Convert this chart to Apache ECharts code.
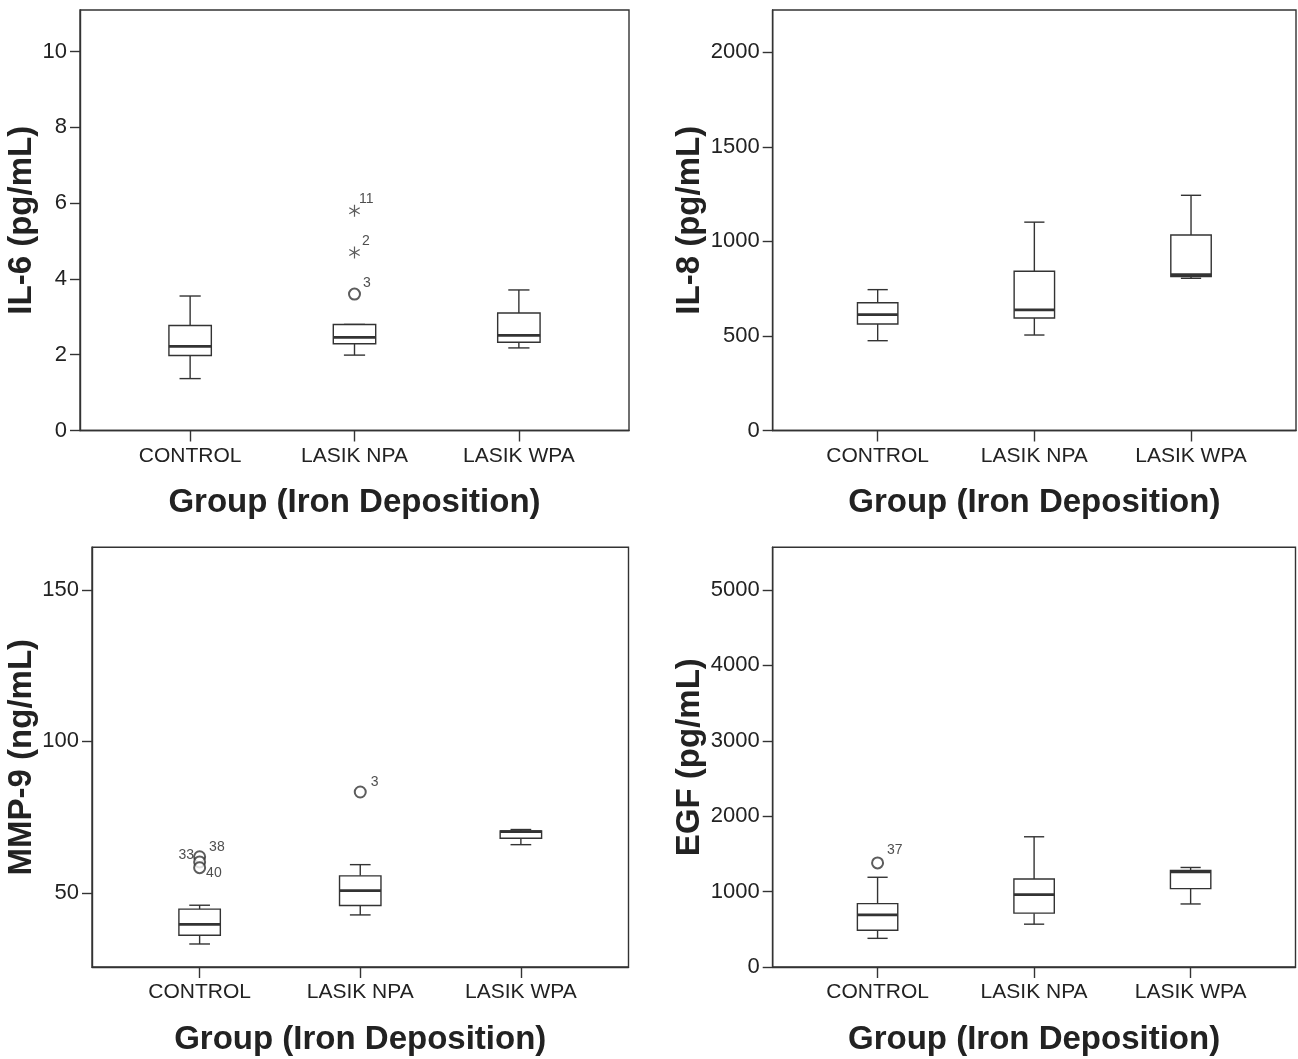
<!DOCTYPE html>
<html>
<head>
<meta charset="utf-8">
<script src="https://cdn.jsdelivr.net/npm/echarts@6/dist/echarts.min.js"></script>
<style>
  html, body { margin: 0; padding: 0; background: #fff; }
  #chart { width: 1298px; height: 1059px; }
</style>
</head>
<body>
<div id="chart"></div>
<script>
// ---------------- DATA ----------------
const groups = ['CONTROL', 'LASIK NPA', 'LASIK WPA'];

// box stats per group: [lower whisker, Q1, median, Q3, upper whisker]
const il6Box  = [[1.37, 1.98, 2.22, 2.77, 3.55], [1.99, 2.29, 2.46, 2.80, 2.80], [2.18, 2.33, 2.51, 3.10, 3.71]];
const il8Box  = [[475, 563, 613, 676, 745], [505, 595, 638, 842, 1102], [805, 814, 824, 1034, 1244]];
const mmp9Box = [[33.1, 36.0, 39.6, 44.6, 45.9], [42.7, 45.8, 50.7, 55.6, 59.3], [65.9, 68.0, 70.2, 70.4, 70.9]];
const egfBox  = [[380, 488, 690, 840, 1190], [568, 714, 960, 1167, 1727], [836, 1039, 1263, 1281, 1320]];

// outliers: [group index, value, case number]
const il6Outliers  = [[1, 3.60, '3']];
const il6Extremes  = [[1, 4.70, '2'], [1, 5.80, '11']];
const il8Outliers  = [];
const mmp9Outliers = [[0, 61.9, '38'], [0, 60.2, '33'], [0, 58.3, '40'], [1, 83.3, '3']];
const egfOutliers  = [[0, 1380, '37']];

// y tick labels
const il6Ticks  = [0, 2, 4, 6, 8, 10];
const il8Ticks  = [0, 500, 1000, 1500, 2000];
const mmp9Ticks = [50, 100, 150];
const egfTicks  = [0, 1000, 2000, 3000, 4000, 5000];

// axis extents
const il6Range  = [0, 11.1];
const il8Range  = [0, 2224];
const mmp9Range = [25.5, 164.1];
const egfRange  = [0, 5566];

const yTitles = ['IL-6 (pg/mL)', 'IL-8 (pg/mL)', 'MMP-9 (ng/mL)', 'EGF (pg/mL)'];
const xTitle = 'Group (Iron Deposition)';

// ---------------- STYLE / LAYOUT ----------------
const INK = '#333333';
const TXT = '#222222';
const FONT = '"Liberation Sans", Arial, Helvetica, sans-serif';

const panels = [
  { grid: { left: 80,  top: 10,    width: 549,   height: 420.5 }, box: il6Box,  out: il6Outliers,  ext: il6Extremes, ticks: il6Ticks,  range: il6Range,  nameGap: 34 },
  { grid: { left: 772.7, top: 10,  width: 523.3, height: 420.5 }, box: il8Box,  out: il8Outliers,  ext: [],          ticks: il8Ticks,  range: il8Range,  nameGap: 58 },
  { grid: { left: 92,  top: 547.3, width: 536.5, height: 419.7 }, box: mmp9Box, out: mmp9Outliers, ext: [],          ticks: mmp9Ticks, range: mmp9Range, nameGap: 45 },
  { grid: { left: 772.7, top: 547.3, width: 522.8, height: 419.7 }, box: egfBox, out: egfOutliers, ext: [],          ticks: egfTicks,  range: egfRange,  nameGap: 59 }
];

// label placement tweaks for case-number labels (style only)
const labelTweaks = {
  '0-3':  { offset: [-1, -11] },
  '0-2':  { offset: [-1, -11] },
  '0-11': { offset: [-4, -12] },
  '2-38': { offset: [0, -10] },
  '2-33': { position: 'left', distance: 0, offset: [1, -7] },
  '2-40': { offset: [-3, 5] },
  '2-3':  { offset: [1, -10] },
  '3-37': { offset: [0, -13] }
};

function renderBox(params, api) {
  const x = api.value(0);
  const lo = api.coord([x, api.value(1)]);
  const q1 = api.coord([x, api.value(2)]);
  const md = api.coord([x, api.value(3)]);
  const q3 = api.coord([x, api.value(4)]);
  const hi = api.coord([x, api.value(5)]);
  const bw = api.size([1, 0])[0] * 0.258;
  const cx = lo[0];
  const cap = bw / 4;
  const ls = { stroke: INK, lineWidth: 1.4 };
  return {
    type: 'group',
    children: [
      { type: 'line', shape: { x1: cx, y1: hi[1], x2: cx, y2: q3[1] }, style: ls },
      { type: 'line', shape: { x1: cx, y1: q1[1], x2: cx, y2: lo[1] }, style: ls },
      { type: 'line', shape: { x1: cx - cap, y1: hi[1], x2: cx + cap, y2: hi[1] }, style: ls },
      { type: 'line', shape: { x1: cx - cap, y1: lo[1], x2: cx + cap, y2: lo[1] }, style: ls },
      { type: 'rect', shape: { x: cx - bw / 2, y: q3[1], width: bw, height: q1[1] - q3[1] },
        style: { fill: '#ffffff', stroke: INK, lineWidth: 1.4 } },
      { type: 'line', shape: { x1: cx - bw / 2, y1: md[1], x2: cx + bw / 2, y2: md[1] },
        style: { stroke: INK, lineWidth: 2.8 } }
    ]
  };
}

const asteriskPath = 'path://M-0.5,-5L0.5,-5L0.5,5L-0.5,5Z' +
  'M4.08,-2.93L4.58,-2.07L-4.08,2.93L-4.58,2.07Z' +
  'M4.58,2.07L4.08,2.93L-4.58,-2.07L-4.08,-2.93Z';

function outlierData(list, panelIdx) {
  return list.map(function (o) {
    const tweak = labelTweaks[panelIdx + '-' + o[2]] || {};
    return {
      value: [o[0], o[1], o[2]],
      label: Object.assign({
        show: true, position: 'right', distance: 3, offset: [0, -10],
        formatter: function (p) { return p.value[2]; },
        fontSize: 14, color: TXT, fontFamily: FONT
      }, tweak)
    };
  });
}

const option = {
  backgroundColor: '#ffffff',
  animation: false,
  textStyle: { fontFamily: FONT },
  grid: [], xAxis: [], yAxis: [], series: []
};

panels.forEach(function (p, i) {
  option.grid.push(Object.assign({ show: true, borderColor: INK, borderWidth: 1.4, backgroundColor: '#fff' }, p.grid));
  option.xAxis.push({
    gridIndex: i, type: 'value', min: -0.67, max: 2.67,
    name: xTitle, nameLocation: 'middle', nameGap: 56,
    nameTextStyle: { fontSize: 33, fontWeight: 'bold', color: TXT, fontFamily: FONT },
    axisLine: { show: true, onZero: false, lineStyle: { color: INK, width: 1.4 } },
    axisTick: { show: true, length: 11, lineStyle: { color: INK, width: 1.4 }, customValues: [0, 1, 2] },
    axisLabel: { show: true, fontSize: 21, color: TXT, margin: 15, fontFamily: FONT,
                 customValues: [0, 1, 2], formatter: function (v) { return groups[Math.round(v)]; } },
    splitLine: { show: false }
  });
  option.yAxis.push({
    gridIndex: i, type: 'value', min: p.range[0], max: p.range[1],
    name: yTitles[i], nameLocation: 'middle', nameGap: p.nameGap, nameRotate: 90,
    nameTextStyle: { fontSize: 33, fontWeight: 'bold', color: TXT, fontFamily: FONT },
    axisLine: { show: true, onZero: false, lineStyle: { color: INK, width: 1.4 } },
    axisTick: { show: true, length: 10, lineStyle: { color: INK, width: 1.4 }, customValues: p.ticks },
    axisLabel: { show: true, fontSize: 22, color: TXT, margin: 13, fontFamily: FONT, customValues: p.ticks,
                 formatter: function (v) { return String(v); } },
    splitLine: { show: false }
  });
  option.series.push({
    type: 'custom', xAxisIndex: i, yAxisIndex: i,
    renderItem: renderBox,
    encode: { x: 0, y: [1, 2, 3, 4, 5] },
    data: p.box.map(function (b, gi) { return [gi].concat(b); }),
    z: 3
  });
  if (p.out.length) {
    option.series.push({
      type: 'scatter', xAxisIndex: i, yAxisIndex: i,
      symbol: 'emptyCircle', symbolSize: 11,
      itemStyle: { color: INK, borderColor: INK, borderWidth: 1.3 },
      data: outlierData(p.out, i), z: 4
    });
  }
  if (p.ext.length) {
    option.series.push({
      type: 'scatter', xAxisIndex: i, yAxisIndex: i,
      symbol: asteriskPath, symbolSize: [11, 12],
      itemStyle: { color: INK },
      data: outlierData(p.ext, i), z: 4
    });
  }
});

const chart = echarts.init(document.getElementById('chart'), null, { renderer: 'canvas' });
chart.setOption(option);
</script>
</body>
</html>
